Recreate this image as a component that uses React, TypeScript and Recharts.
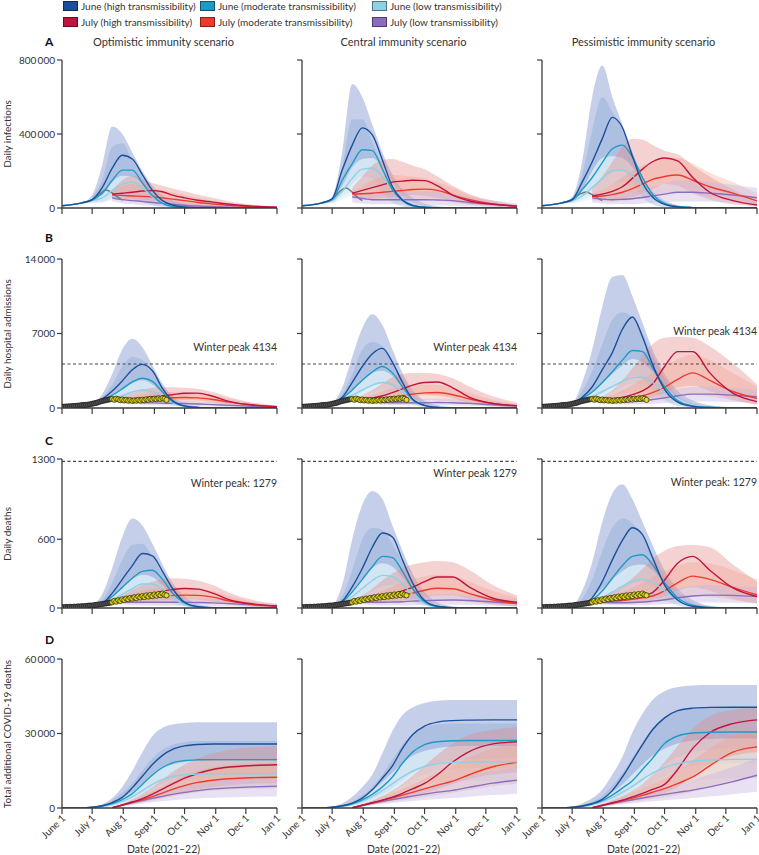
import React from 'react';
import { ComposedChart, Area, Line, Scatter, XAxis, YAxis, ReferenceLine } from 'recharts';

// days since June 1 2021 at which model values were read
const DAYS = [0, 20, 30, 40, 50, 60, 70, 80, 90, 100, 110, 122, 135, 150, 167, 190, 214];
// July scenarios start at day 50 (index 4 of DAYS)
const JULY_START = 4;
const TICK_DAYS = [0, 30, 61, 92, 122, 153, 183, 214];
const TICK_NAMES = ['June 1', 'July 1', 'Aug 1', 'Sept 1', 'Oct 1', 'Nov 1', 'Dec 1', 'Jan 1'];
const GREY_DAYS = [20, 30, 38, 44, 50, 55, 60];

// ---- A: daily infections (thousands) ----
const optInfJunHi = { med: [12, 28, 45, 110, 215, 285, 265, 180, 95, 40, 16, 6, 2, 1, 0, 0, 0], lo: [12, 25, 30, 35, 60, 80, 70, 45, 20, 8, 3, 1, 0, 0, 0, 0, 0], hi: [12, 30, 70, 230, 440, 400, 300, 200, 120, 70, 40, 20, 10, 5, 2, 0, 0] };
const optInfJunMd = { med: [12, 28, 42, 80, 150, 205, 205, 135, 67, 25, 8, 3, 1, 0, 0, 0, 0], lo: [12, 25, 30, 30, 50, 60, 55, 35, 15, 5, 2, 0, 0, 0, 0, 0, 0], hi: [12, 30, 60, 150, 330, 350, 260, 170, 90, 40, 18, 8, 3, 1, 0, 0, 0] };
const optInfJunLo = { med: [12, 28, 40, 55, 95, 130, 140, 110, 60, 25, 10, 3, 1, 0, 0, 0, 0], lo: [12, 25, 28, 30, 40, 50, 50, 35, 15, 5, 2, 0, 0, 0, 0, 0, 0], hi: [12, 30, 55, 70, 140, 175, 170, 130, 75, 35, 15, 5, 2, 0, 0, 0, 0] };
const optInfJulHi = { med: [75, 80, 85, 92, 94, 88, 70, 55, 42, 32, 20, 10, 4], lo: [55, 50, 45, 45, 40, 35, 28, 20, 15, 10, 6, 3, 1], hi: [95, 150, 175, 155, 135, 120, 105, 90, 72, 55, 35, 18, 8] };
const optInfJulMd = { med: [70, 68, 65, 63, 60, 55, 48, 40, 30, 22, 14, 7, 3], lo: [50, 42, 38, 35, 30, 25, 20, 15, 10, 7, 4, 2, 1], hi: [90, 120, 130, 120, 105, 95, 85, 70, 55, 40, 25, 12, 5] };
const optInfJulLo = { med: [55, 45, 40, 35, 30, 25, 20, 15, 11, 8, 5, 3, 1], lo: [35, 25, 20, 15, 12, 10, 7, 5, 3, 2, 1, 0, 0], hi: [75, 75, 70, 60, 52, 45, 38, 30, 22, 15, 10, 5, 2] };
const optInfGrey = [28, 45, 80, 97, 80, 60, 43];

const cenInfJunHi = { med: [12, 28, 50, 205, 340, 433, 395, 260, 115, 43, 14, 4, 1, 0, 0, 0, 0], lo: [12, 25, 30, 80, 130, 170, 160, 100, 40, 12, 4, 1, 0, 0, 0, 0, 0], hi: [12, 30, 60, 300, 670, 600, 450, 300, 180, 100, 55, 25, 10, 4, 1, 0, 0] };
const cenInfJunMd = { med: [12, 28, 45, 150, 240, 315, 310, 210, 100, 40, 12, 4, 1, 0, 0, 0, 0], lo: [12, 25, 28, 60, 90, 120, 115, 75, 30, 10, 3, 1, 0, 0, 0, 0, 0], hi: [12, 30, 55, 220, 480, 480, 360, 230, 120, 55, 25, 10, 4, 1, 0, 0, 0] };
const cenInfJunLo = { med: [12, 28, 40, 90, 160, 210, 215, 170, 100, 45, 18, 6, 2, 0, 0, 0, 0], lo: [12, 25, 28, 45, 70, 90, 90, 70, 35, 12, 4, 1, 0, 0, 0, 0, 0], hi: [12, 30, 50, 120, 220, 265, 270, 220, 140, 70, 30, 10, 3, 1, 0, 0, 0] };
const cenInfJulHi = { med: [80, 95, 110, 125, 140, 145, 150, 148, 120, 70, 38, 20, 10], lo: [60, 55, 50, 55, 60, 65, 70, 65, 55, 35, 20, 10, 4], hi: [110, 170, 230, 260, 265, 250, 230, 210, 170, 120, 75, 40, 15] };
const cenInfJulMd = { med: [75, 77, 80, 85, 90, 95, 100, 102, 95, 70, 45, 22, 10], lo: [50, 45, 40, 42, 45, 48, 50, 50, 40, 30, 18, 8, 3], hi: [90, 120, 150, 170, 180, 175, 170, 160, 140, 110, 70, 35, 14] };
const cenInfJulLo = { med: [60, 52, 45, 45, 45, 45, 45, 45, 43, 40, 30, 20, 10], lo: [30, 25, 20, 20, 20, 20, 20, 18, 15, 12, 8, 5, 2], hi: [80, 82, 85, 88, 90, 90, 90, 90, 88, 80, 60, 40, 25] };
const cenInfGrey = [28, 45, 92, 108, 85, 60, 40];

const pesInfJunHi = { med: [12, 28, 45, 140, 250, 375, 490, 435, 280, 135, 60, 20, 6, 2, 0, 0, 0], lo: [12, 25, 30, 60, 100, 150, 200, 200, 140, 60, 20, 5, 1, 0, 0, 0, 0], hi: [12, 30, 60, 250, 600, 770, 600, 450, 300, 170, 90, 40, 15, 5, 1, 0, 0] };
const pesInfJunMd = { med: [12, 28, 42, 100, 165, 245, 320, 340, 275, 165, 75, 25, 8, 2, 0, 0, 0], lo: [12, 25, 28, 45, 70, 100, 130, 140, 110, 60, 25, 8, 2, 0, 0, 0, 0], hi: [12, 30, 55, 180, 420, 600, 520, 420, 300, 170, 80, 30, 10, 3, 0, 0, 0] };
const pesInfJunLo = { med: [12, 28, 40, 65, 110, 160, 200, 205, 175, 115, 55, 20, 6, 2, 0, 0, 0], lo: [12, 25, 28, 35, 50, 70, 90, 95, 80, 50, 20, 6, 2, 0, 0, 0, 0], hi: [12, 30, 50, 100, 200, 270, 280, 270, 220, 140, 70, 25, 8, 2, 0, 0, 0] };
const pesInfJulHi = { med: [65, 75, 90, 115, 160, 210, 250, 270, 255, 165, 85, 40, 16], lo: [45, 45, 45, 50, 60, 80, 100, 130, 120, 80, 45, 20, 8], hi: [100, 170, 250, 330, 375, 370, 340, 310, 290, 230, 170, 100, 45] };
const pesInfJulMd = { med: [62, 65, 72, 85, 105, 130, 155, 170, 178, 150, 115, 80, 38], lo: [40, 37, 35, 38, 45, 55, 70, 80, 90, 80, 60, 40, 20], hi: [80, 100, 130, 165, 200, 230, 250, 265, 270, 240, 190, 140, 80] };
const pesInfJulLo = { med: [55, 48, 45, 47, 50, 57, 65, 75, 85, 85, 80, 70, 55], lo: [30, 25, 20, 20, 20, 25, 28, 32, 35, 35, 35, 30, 25], hi: [75, 80, 85, 88, 90, 100, 115, 130, 150, 150, 140, 125, 110] };
const pesInfGrey = [28, 45, 76, 87, 72, 55, 40];

// ---- B: daily hospital admissions ----
const optHospJunHi = { med: [120, 250, 400, 850, 1600, 2550, 3600, 4100, 3500, 1850, 700, 200, 60, 15, 0, 0, 0], lo: [120, 230, 350, 600, 800, 1100, 1400, 1500, 1200, 700, 300, 100, 30, 5, 0, 0, 0], hi: [120, 270, 450, 1300, 3200, 5500, 6500, 5700, 4000, 2300, 1100, 450, 150, 50, 10, 0, 0] };
const optHospJunMd = { med: [120, 250, 400, 750, 1200, 1800, 2450, 2800, 2500, 1500, 600, 180, 50, 10, 0, 0, 0], lo: [120, 230, 350, 600, 700, 900, 1100, 1200, 1000, 600, 250, 80, 20, 5, 0, 0, 0], hi: [120, 270, 450, 1000, 2200, 3900, 4800, 4500, 3300, 1900, 900, 350, 100, 30, 5, 0, 0] };
const optHospJunLo = { med: [120, 250, 400, 700, 900, 1150, 1500, 1700, 1550, 1050, 500, 170, 50, 10, 0, 0, 0], lo: [120, 230, 350, 600, 650, 700, 800, 850, 750, 450, 200, 60, 15, 5, 0, 0, 0], hi: [120, 270, 450, 800, 1200, 1800, 2300, 2600, 2200, 1400, 700, 250, 70, 20, 0, 0, 0] };
const optHospJulHi = { med: [800, 800, 850, 950, 1050, 1150, 1250, 1380, 1400, 1100, 600, 280, 130], lo: [700, 650, 600, 600, 600, 650, 700, 750, 700, 550, 300, 130, 60], hi: [900, 1100, 1400, 1700, 1900, 1950, 1950, 1900, 1800, 1500, 1000, 500, 220] };
const optHospJulMd = { med: [780, 760, 780, 820, 870, 920, 960, 980, 950, 800, 550, 280, 130], lo: [650, 550, 500, 500, 500, 520, 550, 560, 520, 430, 280, 130, 50], hi: [850, 950, 1100, 1300, 1400, 1500, 1500, 1480, 1400, 1200, 850, 450, 200] };
const optHospJulLo = { med: [700, 600, 550, 500, 480, 460, 440, 420, 380, 320, 250, 160, 90], lo: [550, 420, 350, 300, 260, 240, 220, 200, 170, 140, 100, 60, 30], hi: [800, 800, 800, 780, 760, 740, 720, 680, 620, 540, 430, 280, 160] };

const cenHospJunHi = { med: [120, 250, 420, 1000, 2400, 3900, 5100, 5600, 4300, 2400, 850, 250, 60, 15, 0, 0, 0], lo: [120, 230, 350, 700, 1000, 1500, 2000, 2300, 2000, 1200, 500, 150, 40, 10, 0, 0, 0], hi: [120, 270, 500, 1900, 4800, 7500, 8800, 7800, 5500, 3300, 1700, 700, 250, 80, 20, 0, 0] };
const cenHospJunMd = { med: [120, 250, 400, 900, 1700, 2600, 3400, 3900, 3300, 2000, 800, 230, 60, 15, 0, 0, 0], lo: [120, 230, 350, 650, 850, 1200, 1500, 1700, 1500, 900, 350, 100, 25, 5, 0, 0, 0], hi: [120, 270, 480, 1300, 3200, 5500, 6200, 5800, 4500, 2800, 1400, 500, 150, 40, 10, 0, 0] };
const cenHospJunLo = { med: [120, 250, 400, 800, 1200, 1700, 2150, 2400, 2200, 1500, 750, 250, 70, 15, 0, 0, 0], lo: [120, 230, 350, 650, 750, 900, 1100, 1250, 1100, 700, 300, 90, 20, 5, 0, 0, 0], hi: [120, 270, 450, 900, 1700, 2600, 3300, 3500, 3000, 2000, 1000, 350, 100, 25, 5, 0, 0] };
const cenHospJulHi = { med: [800, 850, 950, 1150, 1450, 1800, 2150, 2400, 2450, 1900, 1000, 420, 220], lo: [700, 650, 650, 700, 800, 950, 1100, 1200, 1150, 900, 500, 200, 90], hi: [900, 1200, 1700, 2300, 2900, 3200, 3300, 3300, 3200, 2800, 2000, 1100, 500] };
const cenHospJulMd = { med: [780, 780, 820, 900, 1000, 1150, 1300, 1420, 1450, 1250, 850, 430, 200], lo: [650, 550, 520, 520, 550, 600, 680, 720, 700, 580, 380, 170, 70], hi: [850, 1000, 1250, 1550, 1850, 2050, 2150, 2200, 2150, 1900, 1400, 750, 350] };
const cenHospJulLo = { med: [700, 600, 550, 520, 500, 490, 490, 500, 510, 500, 430, 300, 180], lo: [550, 420, 350, 300, 270, 250, 240, 240, 240, 230, 190, 120, 60], hi: [800, 800, 800, 800, 800, 820, 850, 870, 880, 870, 780, 600, 380] };

const pesHospJunHi = { med: [120, 250, 400, 1000, 2000, 3600, 5200, 7400, 8550, 6700, 4100, 1750, 550, 150, 40, 0, 0], lo: [120, 230, 350, 600, 900, 1300, 1900, 2500, 3000, 2700, 1800, 800, 250, 70, 10, 0, 0], hi: [120, 270, 450, 2400, 5500, 9500, 12300, 12500, 10500, 8000, 5500, 3200, 1600, 700, 250, 60, 0] };
const pesHospJunMd = { med: [120, 250, 400, 900, 1500, 2400, 3400, 4500, 5400, 5300, 3800, 2000, 700, 200, 50, 0, 0], lo: [120, 230, 350, 600, 800, 1100, 1500, 2000, 2300, 2200, 1500, 700, 200, 60, 10, 0, 0], hi: [120, 270, 450, 1600, 3500, 6000, 8300, 9000, 8500, 7000, 5000, 2800, 1200, 450, 150, 30, 0] };
const pesHospJunLo = { med: [120, 250, 400, 750, 1100, 1550, 2000, 2500, 2850, 2900, 2400, 1500, 650, 200, 60, 0, 0], lo: [120, 230, 350, 600, 700, 850, 1050, 1300, 1450, 1400, 1100, 650, 250, 70, 20, 0, 0], hi: [120, 270, 450, 900, 1500, 2300, 3200, 4000, 4600, 4300, 3400, 2100, 950, 320, 100, 20, 0] };
const pesHospJulHi = { med: [700, 750, 850, 1000, 1250, 1600, 2250, 3900, 5300, 5300, 3300, 1400, 600], lo: [600, 600, 620, 650, 700, 800, 1000, 1400, 1900, 2100, 1600, 800, 300], hi: [800, 1100, 1700, 2600, 3700, 4900, 6000, 6600, 6700, 6600, 5800, 4200, 2200] };
const pesHospJulMd = { med: [700, 700, 750, 830, 950, 1150, 1450, 1950, 2700, 3300, 2600, 1550, 900], lo: [600, 550, 520, 520, 550, 600, 700, 850, 1050, 1250, 1100, 700, 350], hi: [800, 950, 1250, 1650, 2150, 2700, 3300, 3900, 4600, 5000, 4500, 3300, 2000] };
const pesHospJulLo = { med: [650, 580, 550, 560, 600, 680, 800, 950, 1150, 1300, 1300, 1200, 1050], lo: [520, 420, 360, 330, 330, 350, 400, 470, 550, 600, 600, 560, 480], hi: [750, 750, 800, 850, 950, 1100, 1300, 1550, 1800, 2000, 2050, 1900, 1700] };

// ---- C: daily deaths ----
const optDeathJunHi = { med: [5, 10, 20, 40, 130, 250, 370, 475, 455, 320, 170, 50, 12, 3, 0, 0, 0], lo: [5, 9, 15, 25, 45, 70, 100, 130, 140, 110, 60, 20, 5, 1, 0, 0, 0], hi: [5, 11, 25, 120, 350, 620, 780, 720, 560, 380, 220, 100, 35, 10, 2, 0, 0] };
const optDeathJunMd = { med: [5, 10, 20, 35, 100, 180, 260, 320, 330, 250, 130, 45, 10, 2, 0, 0, 0], lo: [5, 9, 15, 25, 40, 60, 80, 100, 100, 80, 45, 15, 4, 1, 0, 0, 0], hi: [5, 11, 25, 70, 220, 420, 550, 560, 450, 300, 170, 70, 20, 5, 0, 0, 0] };
const optDeathJunLo = { med: [5, 10, 18, 30, 70, 120, 170, 210, 210, 160, 90, 30, 8, 2, 0, 0, 0], lo: [5, 9, 14, 20, 35, 50, 65, 75, 75, 60, 35, 12, 3, 1, 0, 0, 0], hi: [5, 11, 22, 45, 110, 180, 250, 290, 270, 200, 120, 45, 12, 3, 0, 0, 0] };
const optDeathJulHi = { med: [60, 70, 85, 100, 120, 145, 160, 170, 165, 130, 70, 35, 18], lo: [45, 45, 45, 50, 55, 65, 75, 80, 75, 55, 30, 12, 6], hi: [80, 110, 160, 200, 230, 250, 260, 255, 240, 200, 130, 70, 35] };
const optDeathJulMd = { med: [58, 62, 70, 80, 90, 100, 108, 112, 110, 95, 60, 30, 15], lo: [42, 40, 40, 42, 45, 50, 55, 58, 55, 45, 28, 12, 5], hi: [75, 95, 125, 150, 165, 175, 180, 180, 175, 150, 105, 55, 28] };
const optDeathJulLo = { med: [55, 52, 50, 50, 50, 50, 50, 50, 48, 45, 38, 28, 18], lo: [40, 30, 25, 22, 20, 20, 20, 20, 18, 16, 13, 9, 5], hi: [70, 80, 85, 90, 90, 90, 90, 90, 88, 80, 68, 50, 35] };

const cenDeathJunHi = { med: [5, 10, 20, 60, 185, 345, 530, 655, 620, 420, 220, 65, 15, 3, 0, 0, 0], lo: [5, 9, 15, 30, 60, 100, 150, 190, 200, 160, 90, 30, 8, 2, 0, 0, 0], hi: [5, 11, 25, 200, 600, 900, 1020, 950, 720, 500, 300, 140, 50, 15, 3, 0, 0] };
const cenDeathJunMd = { med: [5, 10, 20, 50, 140, 250, 360, 450, 440, 320, 170, 55, 12, 3, 0, 0, 0], lo: [5, 9, 15, 25, 50, 80, 110, 140, 140, 110, 60, 20, 5, 1, 0, 0, 0], hi: [5, 11, 25, 100, 330, 600, 700, 680, 560, 400, 230, 90, 25, 6, 0, 0, 0] };
const cenDeathJunLo = { med: [5, 10, 18, 40, 100, 170, 240, 285, 275, 210, 120, 40, 10, 2, 0, 0, 0], lo: [5, 9, 14, 20, 40, 60, 80, 95, 95, 75, 45, 15, 4, 1, 0, 0, 0], hi: [5, 11, 22, 60, 150, 260, 350, 390, 360, 270, 160, 60, 15, 3, 0, 0, 0] };
const cenDeathJulHi = { med: [60, 65, 80, 95, 120, 150, 180, 230, 270, 270, 180, 85, 50], lo: [45, 45, 45, 48, 55, 65, 75, 95, 110, 110, 75, 35, 18], hi: [80, 110, 170, 240, 300, 350, 380, 400, 410, 400, 330, 200, 110] };
const cenDeathJulMd = { med: [58, 60, 68, 78, 92, 110, 130, 155, 172, 168, 125, 70, 38], lo: [42, 40, 40, 42, 45, 50, 58, 68, 75, 72, 52, 28, 12], hi: [75, 90, 120, 150, 185, 220, 250, 275, 290, 280, 230, 150, 90] };
const cenDeathJulLo = { med: [55, 52, 50, 50, 52, 55, 60, 64, 68, 70, 65, 52, 38], lo: [40, 30, 25, 22, 22, 22, 24, 26, 28, 28, 26, 20, 14], hi: [70, 80, 85, 90, 95, 100, 105, 112, 118, 120, 115, 95, 75] };

const pesDeathJunHi = { med: [5, 10, 18, 35, 90, 230, 420, 590, 700, 640, 440, 200, 70, 15, 3, 0, 0], lo: [5, 9, 14, 25, 45, 70, 110, 160, 210, 230, 180, 90, 30, 8, 1, 0, 0], hi: [5, 11, 22, 150, 400, 750, 1000, 1080, 950, 750, 550, 330, 170, 70, 20, 5, 0] };
const pesDeathJunMd = { med: [5, 10, 18, 30, 70, 150, 260, 370, 450, 465, 380, 220, 90, 25, 5, 0, 0], lo: [5, 9, 14, 20, 40, 60, 90, 120, 150, 160, 130, 70, 25, 6, 1, 0, 0], hi: [5, 11, 22, 80, 250, 500, 700, 780, 740, 620, 460, 280, 130, 45, 12, 0, 0] };
const pesDeathJunLo = { med: [5, 10, 16, 25, 50, 90, 140, 190, 235, 250, 225, 150, 70, 20, 5, 0, 0], lo: [5, 9, 12, 15, 30, 45, 60, 75, 90, 95, 85, 55, 25, 6, 1, 0, 0], hi: [5, 11, 20, 45, 100, 170, 250, 320, 370, 380, 330, 220, 100, 30, 8, 0, 0] };
const pesDeathJulHi = { med: [55, 60, 65, 75, 90, 110, 135, 245, 390, 450, 330, 175, 100], lo: [42, 42, 42, 45, 50, 58, 70, 100, 150, 180, 150, 80, 40], hi: [75, 100, 140, 190, 260, 340, 430, 500, 540, 550, 530, 380, 230] };
const pesDeathJulMd = { med: [55, 55, 60, 65, 75, 88, 105, 150, 220, 278, 250, 180, 115], lo: [40, 38, 38, 40, 42, 45, 50, 60, 80, 100, 95, 70, 45], hi: [70, 85, 110, 140, 180, 220, 270, 320, 370, 400, 390, 330, 250] };
const pesDeathJulLo = { med: [50, 48, 46, 46, 48, 52, 60, 72, 90, 105, 112, 110, 100], lo: [38, 30, 26, 24, 24, 25, 28, 33, 40, 45, 48, 46, 40], hi: [65, 75, 82, 90, 100, 110, 125, 145, 170, 190, 200, 195, 180] };

// ---- D: total additional deaths (thousands) ----
const optCumJunHi = { med: [0, 0, 0.3, 0.9, 2.2, 4.3, 8.2, 12.8, 17.5, 21.2, 23.6, 25, 25.6, 25.8, 25.8, 25.8, 25.8], lo: [0, 0, 0.1, 0.4, 1, 2, 3.5, 5.5, 8, 10, 11.5, 12.5, 13, 13.3, 13.5, 13.5, 13.5], hi: [0, 0, 0.5, 1.5, 4, 8.5, 15, 22.5, 29, 32.3, 33.6, 34.2, 34.5, 34.5, 34.5, 34.5, 34.5] };
const optCumJunMd = { med: [0, 0, 0.3, 0.8, 1.8, 3.4, 5.8, 9.5, 13.3, 16.3, 18.2, 19.1, 19.4, 19.5, 19.5, 19.5, 19.5], lo: [0, 0, 0.1, 0.3, 0.8, 1.5, 2.6, 4, 6, 8, 9.5, 10.8, 11.5, 12, 12, 12, 12], hi: [0, 0, 0.4, 1.2, 3, 6, 10, 15, 20, 23.5, 25.5, 26.5, 27, 27, 27, 27, 27] };
const optCumJunLo = { med: [0, 0, 0.3, 0.7, 1.5, 2.7, 4.5, 7, 9.5, 11.5, 12.7, 13.4, 13.7, 13.8, 13.8, 13.8, 13.8], lo: [0, 0, 0.1, 0.3, 0.7, 1.3, 2.2, 3.4, 4.7, 6, 7, 7.6, 8, 8, 8, 8, 8], hi: [0, 0, 0.4, 1, 2.2, 4, 6.5, 10, 13.5, 16, 17.5, 18.5, 19, 19, 19, 19, 19] };
const optCumJulHi = { med: [0.1, 1.2, 2.4, 3.8, 5.6, 7.6, 9.7, 12, 13.9, 15.5, 16.5, 17.1, 17.4], lo: [0.05, 0.8, 1.6, 2.4, 3.3, 4.3, 5.3, 6.5, 7.5, 8.5, 9.2, 9.8, 10], hi: [0.2, 1.6, 3.4, 5.6, 8.4, 11.5, 14.5, 17.5, 20, 22, 23.5, 24.5, 25] };
const optCumJulMd = { med: [0.1, 1.2, 2.3, 3.4, 4.6, 6, 7.5, 9, 10.3, 11.2, 11.8, 12.2, 12.4], lo: [0.05, 0.8, 1.5, 2.2, 3, 3.8, 4.6, 5.5, 6.3, 7, 7.5, 7.8, 8], hi: [0.2, 1.6, 3.2, 4.8, 6.6, 8.6, 10.8, 13, 15, 16.5, 17.4, 18, 18.3] };
const optCumJulLo = { med: [0.1, 1.1, 2.1, 3, 3.9, 4.7, 5.5, 6.3, 7, 7.7, 8.1, 8.5, 8.8], lo: [0.05, 0.7, 1.3, 1.8, 2.3, 2.7, 3.1, 3.5, 3.8, 4.1, 4.3, 4.5, 4.6], hi: [0.2, 1.5, 2.9, 4.2, 5.5, 6.8, 8, 9.3, 10.5, 11.5, 12.3, 12.8, 13] };

const cenCumJunHi = { med: [0, 0, 0.3, 0.9, 2, 4, 7.3, 12, 17, 24, 29.5, 33, 34.6, 35.2, 35.4, 35.5, 35.5], lo: [0, 0, 0.1, 0.4, 1, 2, 3.5, 5.5, 8, 11, 14, 16.5, 18, 19, 19.5, 19.8, 20], hi: [0, 0, 0.5, 1.8, 4.5, 8.5, 13.5, 22, 31, 37.5, 40.5, 42.3, 43.2, 43.5, 43.5, 43.5, 43.5] };
const cenCumJunMd = { med: [0, 0, 0.3, 0.8, 1.7, 3.3, 5.5, 8.5, 12.5, 18, 22.5, 25.5, 26.7, 27.1, 27.2, 27.2, 27.2], lo: [0, 0, 0.1, 0.3, 0.8, 1.6, 2.7, 4.2, 6.3, 9, 11.5, 13.5, 15, 15.7, 16, 16, 16], hi: [0, 0, 0.4, 1.2, 2.5, 5, 8.5, 13.5, 19.5, 25.5, 29.5, 32.5, 33.7, 34, 34, 34, 34] };
const cenCumJunLo = { med: [0, 0, 0.3, 0.7, 1.5, 2.8, 4.6, 7, 9.8, 12.5, 14.8, 16.7, 17.8, 18.3, 18.5, 18.6, 18.6], lo: [0, 0, 0.1, 0.3, 0.7, 1.3, 2.2, 3.5, 5, 6.7, 8.2, 9.4, 10.2, 10.7, 11, 11, 11], hi: [0, 0, 0.4, 1, 2.2, 4.2, 7, 10.5, 14.3, 18, 21, 23, 24.2, 24.8, 25, 25, 25] };
const cenCumJulHi = { med: [0.1, 1.1, 2.1, 3.2, 4.4, 5.9, 7.7, 9.9, 13.5, 18.5, 22.8, 25.8, 26.7], lo: [0.05, 0.7, 1.4, 2.1, 2.9, 3.8, 4.8, 6, 7.6, 9.7, 11.8, 13.5, 14.3], hi: [0.2, 1.5, 3, 4.8, 7, 9.8, 13, 17, 21.5, 26, 29.5, 31.5, 32.5] };
const cenCumJulMd = { med: [0.1, 1.1, 2.1, 3.1, 4.1, 5.2, 6.3, 7.7, 9.2, 10.8, 13.5, 16.6, 18.4], lo: [0.05, 0.7, 1.3, 1.9, 2.5, 3.1, 3.7, 4.4, 5.2, 6.1, 7.3, 8.8, 9.8], hi: [0.2, 1.5, 2.9, 4.4, 6, 7.7, 9.5, 11.8, 14.3, 17, 20.5, 24, 26] };
const cenCumJulLo = { med: [0.1, 1, 1.9, 2.7, 3.4, 4.1, 4.8, 5.6, 6.4, 7.1, 8.4, 10, 11.2], lo: [0.05, 0.6, 1.1, 1.6, 2, 2.4, 2.8, 3.2, 3.6, 4, 4.5, 5.2, 5.7], hi: [0.2, 1.4, 2.7, 3.9, 5, 6.1, 7.2, 8.4, 9.7, 11, 12.8, 14.8, 16.4] };

const pesCumJunHi = { med: [0, 0, 0.3, 0.8, 1.8, 3.5, 7, 12.5, 19, 25.5, 31.5, 36.3, 39.2, 40.2, 40.5, 40.6, 40.6], lo: [0, 0, 0.1, 0.4, 0.9, 1.7, 3, 5, 7.5, 10.5, 14, 17.5, 20.5, 22.5, 23.5, 24, 24], hi: [0, 0, 0.5, 1.8, 4, 7.5, 13.5, 20.5, 30.5, 38, 43.5, 47, 48.7, 49.3, 49.5, 49.5, 49.5] };
const pesCumJunMd = { med: [0, 0, 0.3, 0.7, 1.6, 3, 5.2, 8, 11, 15.5, 20, 26, 29, 30.2, 30.5, 30.6, 30.6], lo: [0, 0, 0.1, 0.3, 0.7, 1.4, 2.5, 3.9, 5.5, 7.5, 10, 12.8, 15.2, 16.8, 17.6, 18, 18], hi: [0, 0, 0.4, 1.1, 2.5, 5, 9, 14, 20, 26.5, 32, 36.5, 39, 40, 40.3, 40.3, 40.3] };
const pesCumJunLo = { med: [0, 0, 0.3, 0.7, 1.4, 2.6, 4.2, 6.3, 8.8, 11.5, 14, 16.3, 17.8, 18.8, 19.3, 19.6, 19.7], lo: [0, 0, 0.1, 0.3, 0.6, 1.2, 2, 3.1, 4.4, 5.8, 7.3, 8.8, 10, 11, 11.6, 12, 12], hi: [0, 0, 0.4, 0.9, 2, 3.8, 6.3, 9.5, 13.5, 17.5, 21, 24, 26, 27.2, 27.8, 28, 28] };
const pesCumJulHi = { med: [0.1, 1.1, 2.1, 3.2, 4.5, 5.9, 7.5, 9.5, 15.5, 24, 30.3, 34, 35.5], lo: [0.05, 0.7, 1.4, 2.1, 2.9, 3.8, 4.8, 6, 8.5, 13, 17.5, 21, 22.5], hi: [0.2, 1.5, 3, 4.8, 7, 9.8, 13.5, 18.5, 25, 32, 37, 39.5, 40.5] };
const pesCumJulMd = { med: [0.1, 1, 2, 3, 4, 5.1, 6.3, 7.8, 9.8, 12.5, 17, 22.5, 24.6], lo: [0.05, 0.6, 1.2, 1.8, 2.4, 3, 3.6, 4.3, 5.2, 6.5, 8.5, 11, 12.5], hi: [0.2, 1.5, 2.9, 4.4, 6, 7.8, 9.7, 12, 15, 19, 24, 29, 31] };
const pesCumJulLo = { med: [0.1, 1, 1.8, 2.6, 3.3, 4, 4.7, 5.5, 6.3, 7.2, 8.5, 10.6, 13.2], lo: [0.05, 0.6, 1.1, 1.5, 1.9, 2.3, 2.7, 3.1, 3.5, 4, 4.6, 5.5, 6.5], hi: [0.2, 1.4, 2.6, 3.8, 4.9, 6, 7.1, 8.4, 9.8, 11.3, 13.5, 16.5, 20] };

// ---- observed data, every second day from June 1 ----
const hospFitted = [120, 125, 140, 150, 160, 175, 190, 205, 220, 240, 270, 290, 300, 320, 350, 400, 440, 480, 540, 600, 660, 700, 740, 780, 820];
const hospRecent = [850, 780, 880, 820, 740, 800, 720, 770, 690, 740, 670, 720, 700, 760, 700, 780, 730, 820, 770, 860, 800, 880, 830, 900, 850, 920, 870, 760];
const deathFitted = [8, 6, 10, 8, 11, 9, 12, 11, 14, 13, 16, 15, 18, 20, 22, 21, 25, 27, 30, 32, 35, 38, 40, 43, 46];
const deathRecent = [50, 62, 55, 68, 62, 76, 70, 82, 76, 88, 82, 94, 86, 100, 92, 104, 96, 110, 100, 114, 104, 118, 108, 122, 112, 126, 116, 110];

const SERIES = [
  { key: 'junHi', label: 'June (high transmissibility)', july: false, color: '#1b4f9c', band: '#8e9fd4', bandOp: 0.5 },
  { key: 'junMd', label: 'June (moderate transmissibility)', july: false, color: '#1d9bc7', band: '#6f9ad0', bandOp: 0.28 },
  { key: 'junLo', label: 'June (low transmissibility)', july: false, color: '#8ed0e6', band: '#e3f4fa', bandOp: 0.7 },
  { key: 'julHi', label: 'July (high transmissibility)', july: true, color: '#c1133f', band: '#e28a86', bandOp: 0.38 },
  { key: 'julMd', label: 'July (moderate transmissibility)', july: true, color: '#ee3a2c', band: '#f29a82', bandOp: 0.3 },
  { key: 'julLo', label: 'July (low transmissibility)', july: true, color: '#8c6cbd', band: '#c4b3e2', bandOp: 0.4 },
];

const FONT = 'Lato, "Open Sans", sans-serif';
const INK = '#333';
const AXIS = '#3a3a3a';
const PLOT_W = 215;
const Y_W = 60;
const COL_X = [62, 302, 542];
const COL_TITLES = ['Optimistic immunity scenario', 'Central immunity scenario', 'Pessimistic immunity scenario'];

const ROWS = [
  {
    id: 'A', top: 60, height: 148, letterY: 42, unit: 1000, max: 800000, ticks: [0, 400000, 800000], title: 'Daily infections',
    panels: [
      { junHi: optInfJunHi, junMd: optInfJunMd, junLo: optInfJunLo, julHi: optInfJulHi, julMd: optInfJulMd, julLo: optInfJulLo },
      { junHi: cenInfJunHi, junMd: cenInfJunMd, junLo: cenInfJunLo, julHi: cenInfJulHi, julMd: cenInfJulMd, julLo: cenInfJulLo },
      { junHi: pesInfJunHi, junMd: pesInfJunMd, junLo: pesInfJunLo, julHi: pesInfJulHi, julMd: pesInfJulMd, julLo: pesInfJulLo },
    ],
    grey: [optInfGrey, cenInfGrey, pesInfGrey],
  },
  {
    id: 'B', top: 259, height: 149, letterY: 238, unit: 1, max: 14000, ticks: [0, 7000, 14000], title: 'Daily hospital admissions',
    panels: [
      { junHi: optHospJunHi, junMd: optHospJunMd, junLo: optHospJunLo, julHi: optHospJulHi, julMd: optHospJulMd, julLo: optHospJulLo },
      { junHi: cenHospJunHi, junMd: cenHospJunMd, junLo: cenHospJunLo, julHi: cenHospJulHi, julMd: cenHospJulMd, julLo: cenHospJulLo },
      { junHi: pesHospJunHi, junMd: pesHospJunMd, junLo: pesHospJunLo, julHi: pesHospJulHi, julMd: pesHospJulMd, julLo: pesHospJulLo },
    ],
    observed: [hospFitted, hospRecent],
    peak: 4134, peakText: ['Winter peak 4134', 'Winter peak 4134', 'Winter peak 4134'], peakY: [347, 347, 331],
  },
  {
    id: 'C', top: 459, height: 149, letterY: 441, unit: 1, max: 1300, ticks: [0, 600, 1300], title: 'Daily deaths',
    panels: [
      { junHi: optDeathJunHi, junMd: optDeathJunMd, junLo: optDeathJunLo, julHi: optDeathJulHi, julMd: optDeathJulMd, julLo: optDeathJulLo },
      { junHi: cenDeathJunHi, junMd: cenDeathJunMd, junLo: cenDeathJunLo, julHi: cenDeathJulHi, julMd: cenDeathJulMd, julLo: cenDeathJulLo },
      { junHi: pesDeathJunHi, junMd: pesDeathJunMd, junLo: pesDeathJunLo, julHi: pesDeathJulHi, julMd: pesDeathJulMd, julLo: pesDeathJulLo },
    ],
    observed: [deathFitted, deathRecent],
    peak: 1279, peakText: ['Winter peak: 1279', 'Winter peak 1279', 'Winter peak: 1279'], peakY: [483, 473, 482],
  },
  {
    id: 'D', top: 659, height: 149, letterY: 640, unit: 1000, max: 60000, ticks: [0, 30000, 60000], title: 'Total additional COVID-19 deaths',
    panels: [
      { junHi: optCumJunHi, junMd: optCumJunMd, junLo: optCumJunLo, julHi: optCumJulHi, julMd: optCumJulMd, julLo: optCumJulLo },
      { junHi: cenCumJunHi, junMd: cenCumJunMd, junLo: cenCumJunLo, julHi: cenCumJulHi, julMd: cenCumJulMd, julLo: cenCumJulLo },
      { junHi: pesCumJunHi, junMd: pesCumJunMd, junLo: pesCumJunLo, julHi: pesCumJulHi, julMd: pesCumJulMd, julLo: pesCumJulLo },
    ],
    dates: true,
  },
];

function buildRows(panel: any, unit: number) {
  return DAYS.map((day, i) => {
    const row: any = { day };
    SERIES.forEach((s) => {
      const d = panel[s.key];
      const j = s.july ? i - JULY_START : i;
      if (j < 0) {
        row[s.key] = null;
        row[s.key + 'Band'] = null;
        return;
      }
      row[s.key] = d.med[j] * unit;
      row[s.key + 'Band'] = [d.lo[j] * unit, d.hi[j] * unit];
    });
    return row;
  });
}

const fmt = (v: number) => (v >= 10000 ? String(v).replace(/\B(?=(\d{3})+(?!\d))/g, '\u2009') : String(v));

const NoTick = () => null;

const DateTick = (props: any) => {
  const { x, y, payload } = props;
  const name = TICK_NAMES[TICK_DAYS.indexOf(payload.value)];
  // keep the last label inside the page edge
  const ax = Math.min(x + 4, 753);
  const ay = y + 3;
  return (
    <text x={ax} y={ay} transform={`rotate(-45 ${ax} ${ay})`} textAnchor="end" fontSize={10} fill={INK} fontFamily={FONT}>
      {name}
    </text>
  );
};

const FittedDot = (p: any) => <circle cx={p.cx} cy={p.cy} r={2.6} fill="#555" stroke="#1a1a1a" strokeWidth={0.7} />;
const RecentDot = (p: any) => <circle cx={p.cx} cy={p.cy} r={2.6} fill="#e9dc12" stroke="#1a1a1a" strokeWidth={0.7} />;

function Panel({ row, col }: { row: any; col: number }) {
  const rows = buildRows(row.panels[col], row.unit);
  const xh = row.dates ? 46 : 10;
  const grey = row.grey ? GREY_DAYS.map((day, i) => ({ day, v: row.grey[col][i] * row.unit })) : null;
  const fitted = row.observed ? row.observed[0].map((v: number, i: number) => ({ day: i * 2, v })) : null;
  const recent = row.observed
    ? row.observed[1].map((v: number, i: number) => ({ day: 50 + i * 2, v }))
    : null;
  return (
    <div style={{ position: 'absolute', left: COL_X[col] - Y_W, top: row.top - 5 }}>
      <ComposedChart width={PLOT_W + Y_W + 5} height={row.height + 5 + xh} data={rows} margin={{ top: 5, right: 5, bottom: 0, left: 0 }}>
        <XAxis
          type="number"
          dataKey="day"
          domain={[0, 214]}
          ticks={TICK_DAYS}
          interval={0}
          height={xh}
          tickSize={6}
          axisLine={{ stroke: AXIS, strokeWidth: 1.3 }}
          tickLine={{ stroke: AXIS, strokeWidth: 1.2 }}
          tick={row.dates ? DateTick : NoTick}
          allowDataOverflow
        />
        <YAxis
          type="number"
          domain={[0, row.max]}
          ticks={row.ticks}
          interval={0}
          width={Y_W}
          tickSize={5}
          tickMargin={2}
          axisLine={{ stroke: AXIS, strokeWidth: 1.3 }}
          tickLine={{ stroke: AXIS, strokeWidth: 1.2 }}
          tick={col === 0 ? { fill: INK, fontSize: 10, fontFamily: FONT } : NoTick}
          tickFormatter={fmt}
          allowDataOverflow
        />
        {SERIES.map((s) => (
          <Area
            key={s.key + 'Band'}
            type="monotone"
            dataKey={s.key + 'Band'}
            stroke="none"
            fill={s.band}
            fillOpacity={s.bandOp}
            isAnimationActive={false}
            activeDot={false}
          />
        ))}
        {row.peak && <ReferenceLine y={row.peak} stroke="#444" strokeWidth={1.2} strokeDasharray="3 2.5" />}
        {grey && (
          <Line data={grey} dataKey="v" type="monotone" stroke="#6f7f7c" strokeWidth={1.5} dot={false} isAnimationActive={false} />
        )}
        {[...SERIES].reverse().map((s) => (
          <Line
            key={s.key}
            type="monotone"
            dataKey={s.key}
            stroke={s.color}
            strokeWidth={1.4}
            dot={false}
            activeDot={false}
            isAnimationActive={false}
          />
        ))}
        {fitted && <Scatter data={fitted} dataKey="v" shape={FittedDot} isAnimationActive={false} />}
        {recent && <Scatter data={recent} dataKey="v" shape={RecentDot} isAnimationActive={false} />}
      </ComposedChart>
    </div>
  );
}

const text = (extra: any) => ({ position: 'absolute' as const, fontFamily: FONT, color: INK, whiteSpace: 'nowrap' as const, ...extra });

const LEGEND_X = [63, 200, 372];

export default function App() {
  return (
    <div style={{ position: 'relative', width: 759, height: 855, background: '#fff', overflow: 'hidden' }}>
      <style>{'body{margin:0}'}</style>
      {SERIES.map((s, i) => {
        const col = i % 3;
        const line = Math.floor(i / 3);
        const y = line === 0 ? 0 : 16;
        return (
          <div key={s.key} style={text({ left: LEGEND_X[col], top: y, height: 11, display: 'flex', alignItems: 'center', fontSize: 10 })}>
            <span style={{ width: 13, height: 8, background: s.color, border: '1px solid rgba(0,0,0,0.45)', marginRight: 3, display: 'inline-block' }} />
            <span>{s.label}</span>
          </div>
        );
      })}
      {COL_TITLES.map((t, c) => (
        <div key={t} style={text({ left: COL_X[c] + PLOT_W / 2 - 6 - 100, width: 200, textAlign: 'center', top: 35, fontSize: 11, lineHeight: '14px' })}>
          {t}
        </div>
      ))}
      {ROWS.map((row: any) => (
        <React.Fragment key={row.id}>
          <div style={text({ left: 45, top: row.letterY - 8, fontSize: 12, fontWeight: 700, lineHeight: '16px', color: '#111' })}>{row.id}</div>
          <div
            style={text({
              left: 7 - 100,
              top: row.top + row.height / 2 - 7,
              width: 200,
              textAlign: 'center',
              fontSize: 10,
              lineHeight: '14px',
              transform: 'rotate(-90deg)',
            })}
          >
            {row.title}
          </div>
          {[0, 1, 2].map((c) => (
            <Panel key={c} row={row} col={c} />
          ))}
          {row.peakText &&
            row.peakText.map((t: string, c: number) => (
              <div key={c} style={text({ right: 759 - (COL_X[c] + PLOT_W), top: row.peakY[c] - 7, fontSize: 10.5, lineHeight: '14px' })}>
                {t}
              </div>
            ))}
        </React.Fragment>
      ))}
      {[0, 1, 2].map((c) => (
        <div key={c} style={text({ left: COL_X[c] + PLOT_W / 2 - 6 - 60, width: 120, textAlign: 'center', top: 842, fontSize: 10.5, lineHeight: '14px' })}>
          Date (2021–22)
        </div>
      ))}
    </div>
  );
}
